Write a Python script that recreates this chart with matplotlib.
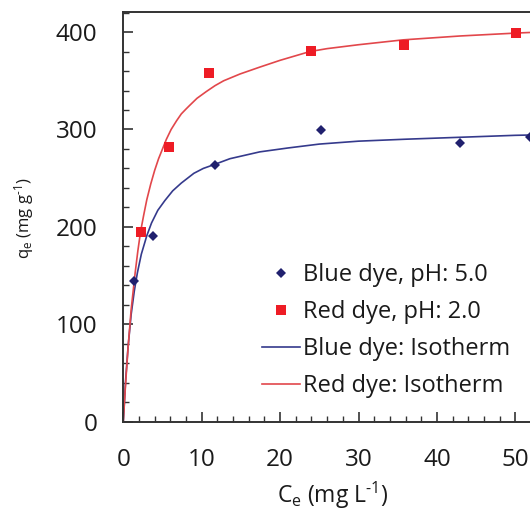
import matplotlib
matplotlib.use("Agg")
import matplotlib.pyplot as plt
from matplotlib.ticker import MultipleLocator

plt.rcParams['font.family'] = ['Open Sans', 'DejaVu Sans']
plt.rcParams['mathtext.fontset'] = 'custom'
plt.rcParams['mathtext.rm'] = 'Open Sans'
plt.rcParams['mathtext.it'] = 'Open Sans'

# Experimental points
blue_pts_x = [1.37, 3.8, 11.7, 25.2, 43.0, 51.9]
blue_pts_y = [144, 191, 264, 299, 286.5, 292]
red_pts_x = [2.2, 5.8, 10.9, 23.9, 35.8, 50.1]
red_pts_y = [195, 282, 358, 381, 387, 399]

# Isotherm curves
red_curve_x = [0, 0.3, 0.6, 1.0, 1.5, 1.85, 2.2, 2.6, 3.0, 3.5, 4.0, 4.5, 5.0,
               5.5, 6.1, 6.8, 7.4, 8.0, 8.5, 9.4, 10.6, 11.7, 12.8, 14.9,
               17.4, 20, 23.8, 26, 30, 35.7, 43, 50.2, 56]
red_curve_y = [0, 40, 75, 115, 152, 175, 195, 212, 228, 244, 258, 270, 280,
               290, 300, 309, 316, 321, 325, 332, 339, 345, 350, 357,
               364, 371, 380, 383, 387, 392, 396, 399, 401]
blue_curve_x = [0, 0.3, 0.6, 1.0, 1.4, 1.8, 2.3, 3.0, 3.6, 4.4, 5.3, 6.3, 7.4,
                9.0, 10.2, 11.6, 13.6, 17.4, 21, 25, 30, 36, 43, 50, 56]
blue_curve_y = [0, 43, 76, 110, 134, 153, 172, 191, 204, 217, 227, 237, 245,
                255, 260, 264, 270, 277, 281, 285, 288, 290, 292, 294, 295]

labels = ["Blue dye, pH: 5.0", "Red dye, pH: 2.0",
          "Blue dye: Isotherm", "Red dye: Isotherm"]
x_ticks = [0, 10, 20, 30, 40, 50]
y_ticks = [0, 100, 200, 300, 400]

W, H = 530, 513
fig = plt.figure(figsize=(W / 100, H / 100), dpi=100)
ax = fig.add_axes([123.3 / W, (H - 421.7) / H, (560 - 123.3) / W, 409.7 / H])

navy_line = '#353a8c'
red_line = '#e2474b'
navy_mark = '#20206e'
red_mark = '#ee1c25'

ax.plot(blue_curve_x, blue_curve_y, color=navy_line, lw=1.2, label=labels[2], zorder=2)
ax.plot(red_curve_x, red_curve_y, color=red_line, lw=1.2, label=labels[3], zorder=2)
h1, = ax.plot(blue_pts_x, blue_pts_y, 'D', color=navy_mark, ms=5.3, mew=0,
              label=labels[0], zorder=3, clip_on=False)
h2, = ax.plot(red_pts_x, red_pts_y, 's', color=red_mark, ms=7.4, mew=0,
              label=labels[1], zorder=3, clip_on=False)

ax.set_xlim(0, 436.7 / 7.84)
ax.set_ylim(0, 420.6)
ax.set_xticks(x_ticks)
ax.set_yticks(y_ticks)
ax.xaxis.set_minor_locator(MultipleLocator(2))
ax.yaxis.set_minor_locator(MultipleLocator(20))

spine_col = '#333333'
for s in ['left', 'bottom', 'top']:
    ax.spines[s].set_linewidth(1.4)
    ax.spines[s].set_color(spine_col)
ax.spines['right'].set_visible(False)

ax.tick_params(axis='both', which='major', direction='in', length=7, width=1.2,
               color=spine_col, labelsize=17.5, labelcolor='#1a1a1a')
ax.tick_params(axis='both', which='minor', direction='in', length=4.5, width=1.0,
               color=spine_col)
ax.tick_params(axis='y', which='both', pad=18.5)
ax.tick_params(axis='x', which='both', pad=19)
ax.tick_params(axis='x', which='both', top=False)

ax.set_xlabel(r'C$_\mathregular{e}$ (mg L$^{\text{-1}}$)', fontsize=16.5, color='#1a1a1a')
ax.xaxis.set_label_coords((332.5 - 123.3) / (560 - 123.3), (421.7 - 495) / 409.7)
ax.xaxis.label.set_va('center')
ax.set_ylabel(r'q$_\mathregular{e}$ (mg g$^{\text{-1}}$)', fontsize=12, color='#1a1a1a')
ax.yaxis.set_label_coords((24 - 123.3) / (560 - 123.3), (421.7 - 218) / 409.7)
ax.yaxis.label.set_va('center')

handles = [h1, h2] + ax.get_lines()[:2]
leg = ax.legend(handles, labels, loc='upper left',
                bbox_to_anchor=(261.7 / W, 1 - 263 / H), bbox_transform=fig.transFigure,
                frameon=False, fontsize=17, borderpad=0, borderaxespad=0,
                handlelength=1.62, handletextpad=0.15, labelspacing=0.55)
for t in leg.get_texts():
    t.set_color('#1a1a1a')

fig.savefig('out.png', dpi=100)
